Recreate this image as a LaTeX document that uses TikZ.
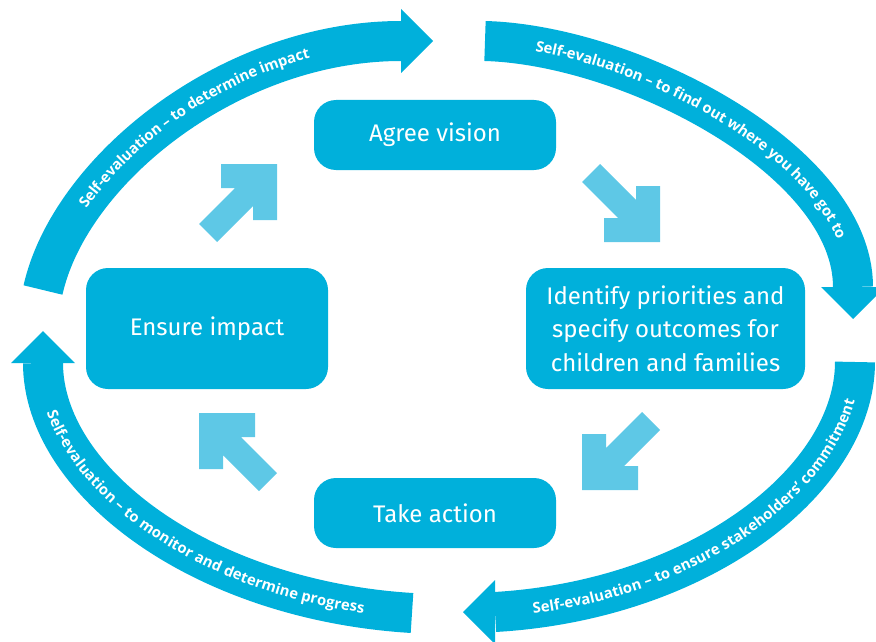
\documentclass[tikz,border=0pt]{standalone}
\usepackage{fontspec}
\usepackage{tikz}
\usetikzlibrary{decorations.text}
\newfontfamily\boxfont{Fira Sans}
\newfontfamily\bandfont{Open Sans}
\definecolor{cycdark}{RGB}{0,176,219}
\definecolor{cyclight}{RGB}{94,200,230}
\tikzset{
  stage/.style={fill=cycdark, rounded corners=22pt, text=white, align=center,
    inner sep=0pt, font=\boxfont\fontsize{24}{33.5}\selectfont},
  band/.style={draw=cycdark, line width=40pt},
  bandhead/.style={fill=cycdark},
  bandtext/.style={postaction={decorate, decoration={text along path,
    text align=center, raise=-5pt, text color=white,
    text={|\bandfont\bfseries\fontsize{14.8}{17}\selectfont|#1}}}},
  cornerarrow/.pic={
    \fill[cyclight] (-56,0) -- (0,0) -- (0,56) -- (-24,56) -- (-24,42)
      -- (-60,78) -- (-78,60) -- (-42,24) -- (-56,24) -- cycle;
  }
}
\begin{document}
\begin{tikzpicture}[x=1pt, y=-1pt]
  \useasboundingbox (0,0) rectangle (876,642);
  \clip (0,0) rectangle (876,642);

  % the four stages
  \node[stage, minimum width=242pt, minimum height=70pt] (agree) at (435,135) {Agree vision};
  \node[stage, minimum width=279pt, minimum height=121pt] (identify) at (665.5,328.5)
    {Identify priorities and\\specify outcomes for\\children and families};
  \node[stage, minimum width=242pt, minimum height=70pt] (action) at (435,513) {Take action};
  \node[stage, minimum width=242pt, minimum height=121pt] (ensure) at (207,328.5) {Ensure impact};

  % arrows between the stages
  \pic at (277,164) {cornerarrow};
  \pic[rotate=-90] at (660,242) {cornerarrow};
  \pic[rotate=180] at (582,490) {cornerarrow};
  \pic[rotate=90] at (199,413) {cornerarrow};

  % self-evaluation bands
  \coordinate (tlTail) at (43,290);
  \coordinate (tlHead) at (401,41);
  \coordinate (trTail) at (485,41);
  \coordinate (trHead) at (853,287);
  \coordinate (brTail) at (855,362);
  \coordinate (brHead) at (495,612);
  \coordinate (blTail) at (412,613);
  \coordinate (blHead) at (43,363);

  \draw[band, bandtext={Self-evaluation – to determine impact}]
    (tlTail) .. controls (70,170) and (230,41) .. (tlHead);
  \fill[bandhead] (401,9) -- (433,41) -- (401,73) -- cycle;

  \draw[band, bandtext={Self-evaluation – to find out where you have got to}]
    (trTail) .. controls (630,45) and (853,160) .. (trHead);
  \fill[bandhead] (821,287) -- (853,319) -- (885,287) -- cycle;

  \draw[band, bandtext={Self-evaluation – to ensure stakeholders’ commitment}]
    (brHead) .. controls (700,600) and (855,480) .. (brTail);
  \fill[bandhead] (495,580) -- (463,612) -- (495,644) -- cycle;

  \draw[band, bandtext={Self-evaluation – to monitor and determine progress}]
    (blHead) .. controls (43,480) and (200,600) .. (blTail);
  \fill[bandhead] (11,363) -- (43,331) -- (75,363) -- cycle;
\end{tikzpicture}
\end{document}
